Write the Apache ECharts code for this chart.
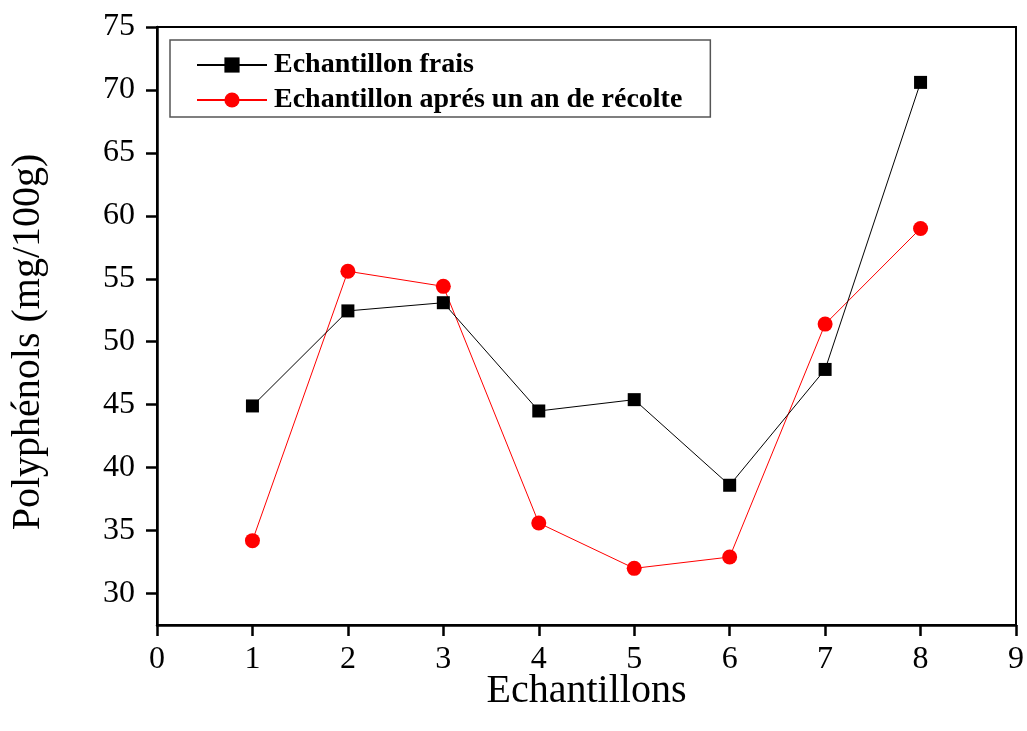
<!DOCTYPE html>
<html>
<head>
<meta charset="utf-8">
<title>Polyphénols</title>
<script src="https://cdn.jsdelivr.net/npm/echarts@6/dist/echarts.min.js"></script>
<style>
  html, body { margin: 0; padding: 0; background: #fff; }
  #chart { width: 1027px; height: 731px; }
</style>
</head>
<body>
<div id="chart"></div>
<script>
// Sample numbers along the x axis
const samples = [1, 2, 3, 4, 5, 6, 7, 8];
// Polyphenol content (mg/100g)
const fresh = [44.9, 52.45, 53.1, 44.5, 45.4, 38.6, 47.8, 70.6];
const afterYear = [34.2, 55.6, 54.4, 35.6, 32.0, 32.9, 51.4, 59.0];
// Y-axis tick values
const yTicks = [30, 35, 40, 45, 50, 55, 60, 65, 70, 75];

const serif = '"Liberation Serif", "Times New Roman", serif';

const chart = echarts.init(document.getElementById('chart'));

const axisText = { fontFamily: serif, fontSize: 32, color: '#000' };

chart.setOption({
  backgroundColor: '#fff',
  animation: false,
  grid: {
    left: 157, right: 9, top: 27, bottom: 106,
    show: true, borderColor: '#000', borderWidth: 2, backgroundColor: 'transparent'
  },
  legend: {
    left: 170, top: 40,
    orient: 'vertical',
    itemWidth: 70, itemHeight: 19, itemGap: 7,
    padding: [11, 28, 3, 26],
    borderColor: '#555', borderWidth: 1.5,
    textStyle: { fontFamily: serif, fontSize: 28, fontWeight: 'bold', color: '#000', padding: [0, 0, 0, 2] },
    data: ['Echantillon frais', 'Echantillon aprés un an de récolte']
  },
  xAxis: {
    type: 'value', min: 0, max: 9, interval: 1,
    name: 'Echantillons', nameLocation: 'middle', nameGap: 46, nameMoveOverlap: false,
    nameTextStyle: { fontFamily: serif, fontSize: 40, color: '#000' },
    axisLine: { show: true, onZero: false, lineStyle: { color: '#000', width: 2.5 } },
    axisTick: { show: true, inside: false, length: 11, lineStyle: { color: '#000', width: 2.5 } },
    axisLabel: Object.assign({ margin: 19 }, axisText),
    splitLine: { show: false }
  },
  yAxis: {
    type: 'value', min: 27.5, max: 75,
    name: 'Polyphénols (mg/100g)', nameLocation: 'middle', nameGap: 109,
    nameTextStyle: { fontFamily: serif, fontSize: 40, color: '#000', padding: [0, 32, 0, 0] },
    axisLine: { show: true, onZero: false, lineStyle: { color: '#000', width: 2.5 } },
    axisTick: { show: true, inside: false, length: 11, customValues: yTicks, lineStyle: { color: '#000', width: 2.5 } },
    axisLabel: Object.assign({ margin: 22, customValues: yTicks }, axisText),
    splitLine: { show: false }
  },
  series: [
    {
      name: 'Echantillon frais',
      type: 'line',
      data: samples.map((s, i) => [s, fresh[i]]),
      symbol: 'rect', symbolSize: 13,
      itemStyle: { color: '#000' },
      lineStyle: { color: '#000', width: 1 },
      z: 3
    },
    {
      name: 'Echantillon aprés un an de récolte',
      type: 'line',
      data: samples.map((s, i) => [s, afterYear[i]]),
      symbol: 'circle', symbolSize: 15,
      itemStyle: { color: '#ff0000' },
      lineStyle: { color: '#ff0000', width: 1 },
      z: 2
    }
  ]
});
</script>
</body>
</html>
